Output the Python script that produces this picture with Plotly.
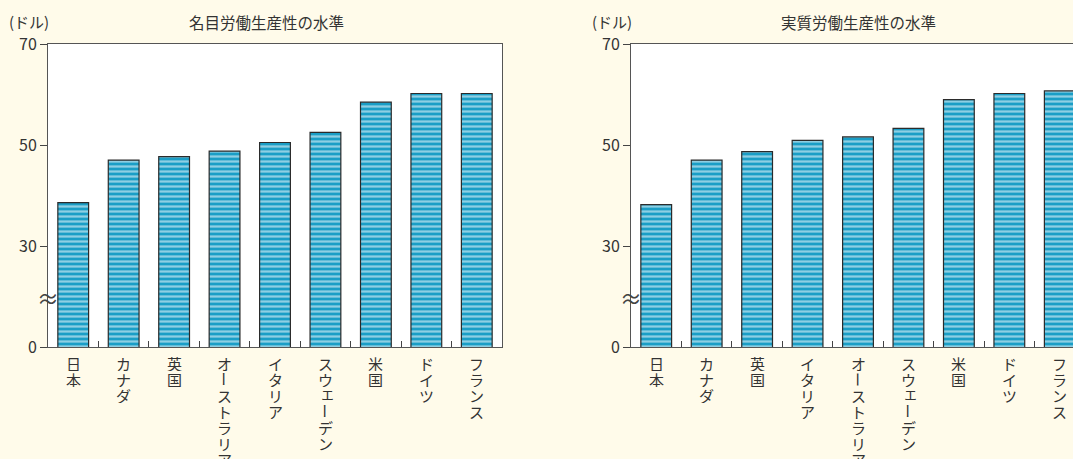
import plotly.graph_objects as go

# Labour productivity levels (USD per hour), two panels
nominal_countries = ["日本", "カナダ", "英国", "オーストラリア", "イタリア",
                     "スウェーデン", "米国", "ドイツ", "フランス"]
nominal_values = [38.6, 47.0, 47.7, 48.8, 50.5, 52.5, 58.5, 60.2, 60.2]

real_countries = ["日本", "カナダ", "英国", "イタリア", "オーストラリア",
                  "スウェーデン", "米国", "ドイツ", "フランス"]
real_values = [38.2, 47.0, 48.7, 50.9, 51.6, 53.3, 59.0, 60.2, 60.7]

# Broken y axis: the stretch below 30 is compressed, so the base "0" sits at 10
y_tickvals = [10, 30, 50, 70]
y_ticktext = ["0", "30", "50", "70"]
y_break = 20

titles = ["名目労働生産性の水準", "実質労働生産性の水準"]
unit = "(ドル)"

PAPER = "#FFFBEA"
BAR = "#1a9ec6"
INK = "#333333"
FONT = "Noto Sans CJK JP"
W, H = 1073, 459

fig = go.Figure()

def add_bars(cats, vals, xa, ya):
    fig.add_trace(go.Bar(
        x=cats, y=vals, xaxis=xa, yaxis=ya, width=0.61,
        marker=dict(color=BAR, line=dict(color="#2b2b2b", width=1.2),
                    pattern=dict(shape="-", fgcolor="white", size=5,
                                 solidity=0.45, fillmode="overlay")),
        showlegend=False, hoverinfo="x+y"))

add_bars(nominal_countries, nominal_values, "x", "y")
add_bars(real_countries, real_values, "x2", "y2")

y_bottom = (H - 347) / H
y_top = (H - 44) / H
left_dom = [48 / W, 502 / W]
right_dom = [631 / W, 1.0]
band = (left_dom[1] - left_dom[0]) * W / 9
right_span = (right_dom[1] - right_dom[0]) * W / band

axis_common = dict(showgrid=False, zeroline=False, linecolor="#555555",
                   linewidth=1, tickcolor="#444444", automargin=False)

fig.update_layout(
    width=W, height=H, margin=dict(l=0, r=0, t=0, b=0, autoexpand=False),
    paper_bgcolor=PAPER, plot_bgcolor="white",
    font=dict(family=FONT, color=INK),
    bargap=0.39,
    xaxis=dict(domain=left_dom, type="category", range=[-0.5, 8.5],
               mirror=True, showline=True, ticks="inside", ticklen=6,
               tickson="boundaries", showticklabels=False, **axis_common),
    yaxis=dict(domain=[y_bottom, y_top], range=[10, 70], mirror=True,
               showline=True, ticks="outside", ticklen=7,
               tickvals=y_tickvals, ticktext=y_ticktext,
               tickfont=dict(size=16, color=INK), **axis_common),
    xaxis2=dict(domain=right_dom, type="category",
                range=[-0.5, -0.5 + right_span], anchor="y2",
                mirror=True, showline=True, ticks="inside", ticklen=6,
                tickson="boundaries", showticklabels=False, **axis_common),
    yaxis2=dict(domain=[y_bottom, y_top], range=[10, 70], anchor="x2",
                showline=True, ticks="outside", ticklen=7,
                tickvals=y_tickvals, ticktext=y_ticktext,
                tickfont=dict(size=16, color=INK), **axis_common),
)

annotations = []

# Vertically stacked category labels, one character per line
small_kana = set("ァィゥェォッャュョ")
pitch = 16
for cats, xr in ((nominal_countries, "x"), (real_countries, "x2")):
    for cat in cats:
        for i, ch in enumerate(cat):
            dx, dy = (2, 3) if ch in small_kana else (0, 0)
            annotations.append(dict(
                x=cat, xref=xr, y=y_bottom, yref="paper",
                text=ch, showarrow=False, xanchor="center", yanchor="middle",
                yshift=-16 - pitch * i + dy, xshift=dx,
                height=pitch, borderpad=0,
                textangle=90 if ch == "ー" else 0,
                font=dict(size=15, color=INK, family=FONT)))

# Panel titles and unit labels
for title, cx, ux in ((titles[0], 266 / W, 7 / W), (titles[1], 858 / W, 590 / W)):
    annotations.append(dict(x=cx, y=(H - 22) / H, xref="paper", yref="paper",
                            text=title, showarrow=False, xanchor="center",
                            yanchor="middle", font=dict(size=15.5, color=INK)))
    annotations.append(dict(x=ux, y=(H - 22) / H, xref="paper", yref="paper",
                            text=unit, showarrow=False, xanchor="left",
                            yanchor="middle", font=dict(size=15, color=INK)))

# Axis break marks
for xr, yr in (("x domain", "y"), ("x2 domain", "y2")):
    annotations.append(dict(x=0, xref=xr, y=y_break, yref=yr, text="≈",
                            showarrow=False, xanchor="center", yanchor="middle",
                            font=dict(size=22, color="#444444")))

fig.update_layout(annotations=annotations)
fig.write_html("out.html")
